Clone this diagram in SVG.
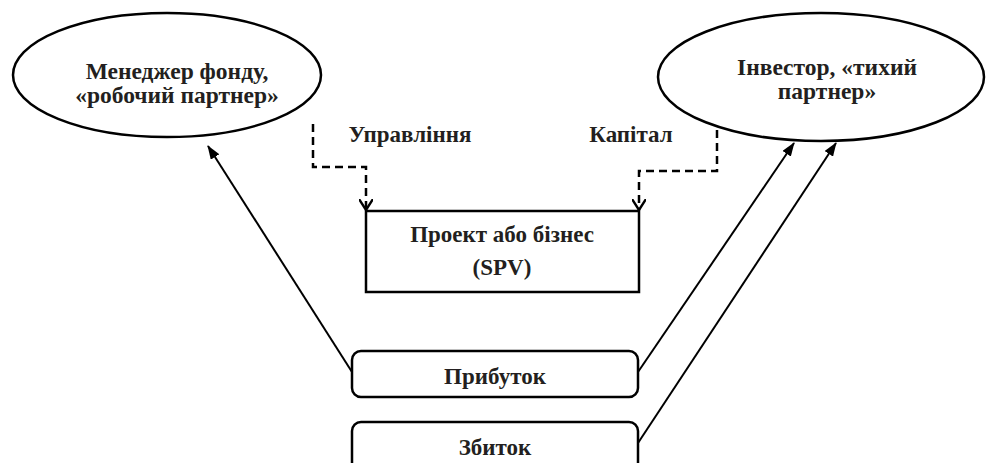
<svg xmlns="http://www.w3.org/2000/svg" width="988" height="463" viewBox="0 0 988 463">
<style>
.t{font-family:"Liberation Serif","Times New Roman","DejaVu Serif",serif;font-weight:bold;font-size:23px;fill:#231f20;text-anchor:middle}
.e{font-size:23.5px}
.n{fill:#fff;stroke:#000;stroke-width:2.5}
.d{fill:none;stroke:#000;stroke-width:2.5;stroke-dasharray:8 5}
.s{fill:none;stroke:#000;stroke-width:2}
</style>
<defs>
<marker id="open" viewBox="0 0 12 14" refX="11" refY="7" markerWidth="12" markerHeight="14" markerUnits="userSpaceOnUse" orient="auto">
<path d="M0,0 L11,7 L0,14" fill="none" stroke="#000" stroke-width="2.4"/>
</marker>
<marker id="fill" viewBox="0 0 14 10" refX="13" refY="5" markerWidth="14" markerHeight="10" markerUnits="userSpaceOnUse" orient="auto">
<path d="M0,0 L14,5 L0,10 Z" fill="#000"/>
</marker>
</defs>
<rect width="988" height="463" fill="#fff"/>
<g id="manager">
<ellipse class="n" cx="167" cy="75" rx="154" ry="62" stroke-width="2.2"/>
<text class="t e" x="177" y="79">Менеджер фонду,</text>
<text class="t e" x="177" y="103">«робочий партнер»</text>
</g>
<g id="investor">
<ellipse class="n" cx="821" cy="77" rx="163" ry="64" stroke-width="2.2"/>
<text class="t e" x="827" y="75">Інвестор, «тихий</text>
<text class="t e" x="827" y="99">партнер»</text>
</g>
<g id="spv">
<rect class="n" x="366" y="211" width="273" height="81" stroke-width="3"/>
<text class="t" x="502" y="242">Проект або бізнес</text>
<text class="t" x="502" y="275">(SPV)</text>
</g>
<g id="profit">
<rect class="n" x="352" y="351" width="286" height="46" rx="9" stroke-width="2.5"/>
<text class="t" x="495" y="384">Прибуток</text>
</g>
<g id="loss">
<rect class="n" x="352" y="422" width="286" height="60" rx="9" stroke-width="2.5"/>
<text class="t" x="495" y="455">Збиток</text>
</g>
<g id="labels">
<text class="t" x="410" y="142">Управління</text>
<text class="t" x="631" y="142">Капітал</text>
</g>
<g id="connectors">
<path class="d" d="M313,124 V167 H366 V210" marker-end="url(#open)"/>
<path class="d" d="M717,130 V171 H639 V210" marker-end="url(#open)"/>
<path class="s" d="M352,372 L208,146" marker-end="url(#fill)"/>
<path class="s" d="M638,372 L794,143" marker-end="url(#fill)"/>
<path class="s" d="M638,443 L836,143" marker-end="url(#fill)"/>
</g>
</svg>
